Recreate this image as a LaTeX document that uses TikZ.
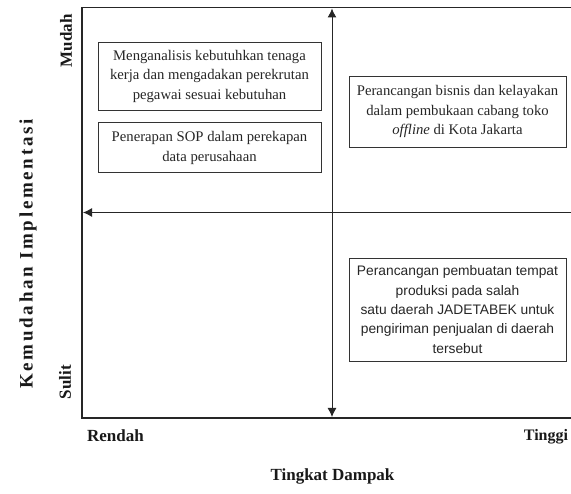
\documentclass[tikz,border=0pt]{standalone}
\usepackage{fontspec}
\setmainfont{Liberation Serif}
\newfontfamily\arialfont{Liberation Sans}
\usepackage{tikz}
\usetikzlibrary{positioning}
\usetikzlibrary{arrows.meta}

\begin{document}
\begin{tikzpicture}[x=1pt, y=-1pt, font=\fontsize{14.7}{19.5}\selectfont]
% Styles:
\tikzset{quadbox/.style={draw=black!80, line width=0.9pt, align=center, inner sep=0pt, text=black!85}}
\tikzset{axislabel/.style={font=\fontsize{17}{20}\selectfont\bfseries, text=black!90, inner sep=0pt}}
\tikzset{axisline/.style={line width=1.3pt, draw=black!85}}
\tikzset{axisarrow/.style={line width=1pt, draw=black!85, {Latex[length=9pt,width=9pt]}-{Latex[length=9pt,width=9pt]}}}

\useasboundingbox (0,0) rectangle (571,494);

% Frame:
\coordinate (tl) at (82,7.5);
\coordinate (tr) at (571,7.5);
\coordinate (bl) at (82,418);
\coordinate (br) at (571,418);
\draw[axisline] (tr) -- (tl) -- (bl) -- (br);

% Axes:
\coordinate (vtop) at (332,8.5);
\coordinate (vbot) at (332,417);
\coordinate (hleft) at (83,212.5);
\coordinate (hright) at (571,212.5);
\draw[axisarrow] (vtop) -- (vbot);
\draw[axisarrow, {Latex[length=9pt,width=9pt]}-] (hleft) -- (hright);

% Main nodes:
\node[quadbox, minimum width=223pt, minimum height=68pt] (kebutuhan) at (209.5,76)
  {Menganalisis kebutuhkan tenaga\\kerja dan mengadakan perekrutan\\pegawai sesuai kebutuhan};
\node[quadbox, minimum width=223pt, minimum height=50pt] (sop) [below = 12pt of kebutuhan]
  {Penerapan SOP dalam perekapan\\data perusahaan};
\node[quadbox, minimum width=217pt, minimum height=71pt] (cabang) at (457.5,111.5)
  {Perancangan bisnis dan kelayakan\\dalam pembukaan cabang toko\\\textit{offline} di Kota Jakarta};
\node[quadbox, minimum width=217pt, minimum height=103pt, font=\arialfont\fontsize{13.8}{19.4}\selectfont] (produksi) at (457.5,309.5)
  {Perancangan pembuatan tempat\\produksi pada salah\\satu daerah JADETABEK untuk\\pengiriman penjualan di daerah\\tersebut};

% Axis labels:
\node[axislabel, rotate=90] (mudah) at (66,41) {Mudah};
\node[axislabel, rotate=90] (sulit) at (65,382) {Sulit};
\node[axislabel, rotate=90, font=\fontsize{19}{22}\selectfont\bfseries] (kemudahan) at (28,254)
  {\addfontfeatures{LetterSpace=14}Kemudahan Implementasi};
\node[axislabel] (rendah) at (115.5,436) {Rendah};
\node[axislabel, font=\fontsize{16}{18}\selectfont\bfseries] (tinggi) at (546,437) {Tinggi};
\node[axislabel] (dampak) at (332.5,476) {Tingkat Dampak};
\end{tikzpicture}
\end{document}
